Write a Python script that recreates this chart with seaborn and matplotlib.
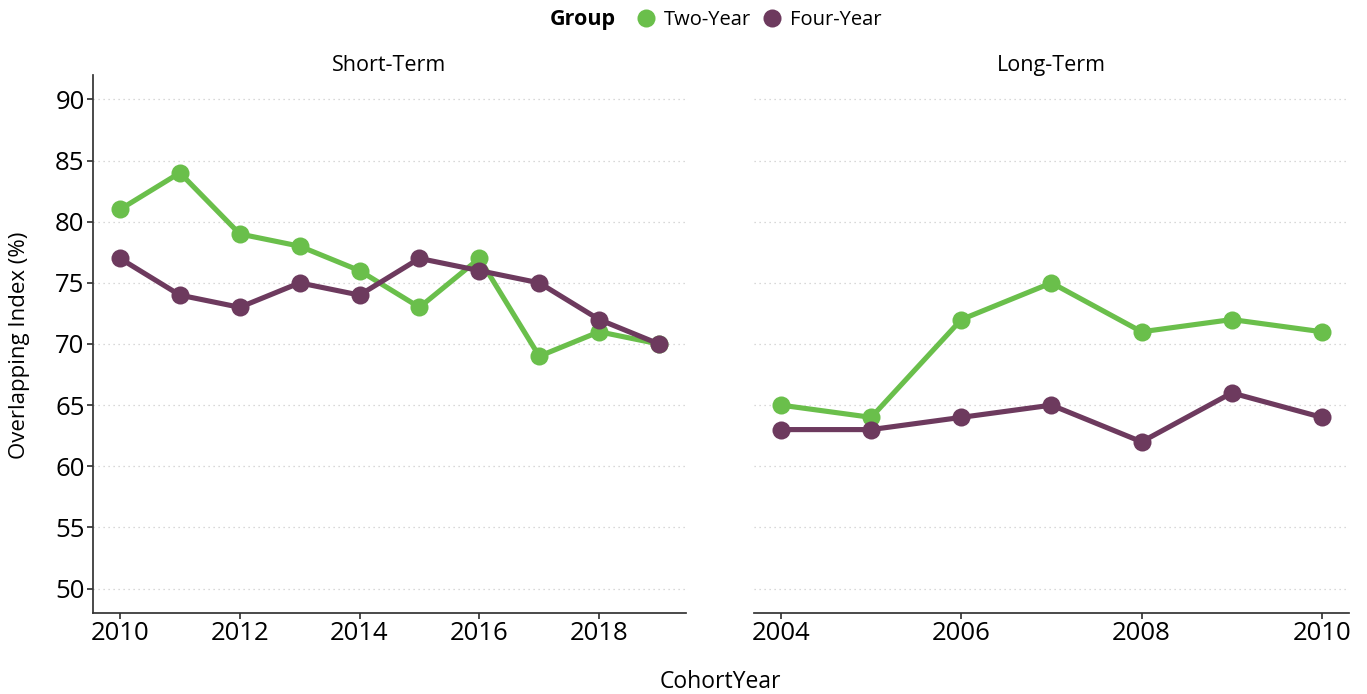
import matplotlib
matplotlib.use("Agg")
import matplotlib.pyplot as plt
import seaborn as sns
import pandas as pd
from matplotlib.lines import Line2D

short_years = [2010, 2011, 2012, 2013, 2014, 2015, 2016, 2017, 2018, 2019]
short_two = [81, 84, 79, 78, 76, 73, 77, 69, 71, 70]
short_four = [77, 74, 73, 75, 74, 77, 76, 75, 72, 70]
long_years = [2004, 2005, 2006, 2007, 2008, 2009, 2010]
long_two = [65, 64, 72, 75, 71, 72, 71]
long_four = [63, 63, 64, 65, 62, 66, 64]
groups = ["Two-Year", "Four-Year"]
panels = ["Short-Term", "Long-Term"]
yticks = [50, 55, 60, 65, 70, 75, 80, 85, 90]

colors = {"Two-Year": "#6abf4b", "Four-Year": "#6d3a5e"}

def make_df(years, two, four):
    return pd.DataFrame({
        "CohortYear": years + years,
        "Value": two + four,
        "Group": [groups[0]] * len(years) + [groups[1]] * len(years),
    })

dfs = [make_df(short_years, short_two, short_four), make_df(long_years, long_two, long_four)]

sns.set_theme(style="white")
plt.rcParams["font.family"] = ["Open Sans", "DejaVu Sans"]
plt.rcParams["text.color"] = "black"
plt.rcParams["axes.labelcolor"] = "black"

fig = plt.figure(figsize=(13.67, 6.94), dpi=100)
W, H = 1367, 694
axL = fig.add_axes([93 / W, 1 - 613 / H, (686 - 93) / W, (613 - 75) / H])
axR = fig.add_axes([754 / W, 1 - 613 / H, (1349 - 754) / W, (613 - 75) / H], sharey=axL)

for ax, df, title, years in zip([axL, axR], dfs, panels, [short_years, long_years]):
    sns.lineplot(data=df, x="CohortYear", y="Value", hue="Group", hue_order=groups,
                 palette=colors, ax=ax, linewidth=3.7, marker="o", markersize=13,
                 markeredgewidth=0, legend=False)
    ax.set_title(title, fontsize=15.5, pad=3, color="black")
    ax.set_xlabel("")
    ax.set_ylabel("")
    span = years[-1] - years[0]
    ax.set_xlim(years[0] - 0.05 * span, years[-1] + 0.05 * span)
    ax.set_ylim(48, 92)
    ax.set_yticks(yticks)
    ax.yaxis.grid(True, linestyle=(0, (1, 3)), color="#cccccc", linewidth=0.9)
    ax.xaxis.grid(False)
    for s in ["top", "right"]:
        ax.spines[s].set_visible(False)
    ax.spines["bottom"].set_color("#333333")
    ax.spines["left"].set_color("#333333")
    ax.tick_params(axis="both", labelsize=18.5, length=4, color="#333333", labelcolor="black",
                   bottom=True, left=True, pad=2)

axL.set_xticks([2010, 2012, 2014, 2016, 2018])
axR.set_xticks([2004, 2006, 2008, 2010])
axR.spines["left"].set_visible(False)
axR.tick_params(axis="y", left=False, labelleft=False)

fig.text(20 / W, 1 - 345 / H, "Overlapping Index (%)", rotation=90, ha="center", va="center", fontsize=16)
fig.text(720 / W, 1 - 682 / H, "CohortYear", ha="center", va="center", fontsize=16.5)

fig.text(616 / W, 1 - 20 / H, "Group", ha="right", va="center", fontsize=15.5, fontweight="bold")
handles = [Line2D([], [], marker="o", linestyle="none", markersize=13, markeredgewidth=0,
                  color=colors[g]) for g in groups]
fig.legend(handles, groups, loc="center left", bbox_to_anchor=(624 / W, 1 - 20 / H), ncol=2,
           frameon=False, fontsize=14.5, handletextpad=0.3, columnspacing=0.4, borderpad=0,
           handlelength=1.2)

fig.savefig("out.png", dpi=100)
